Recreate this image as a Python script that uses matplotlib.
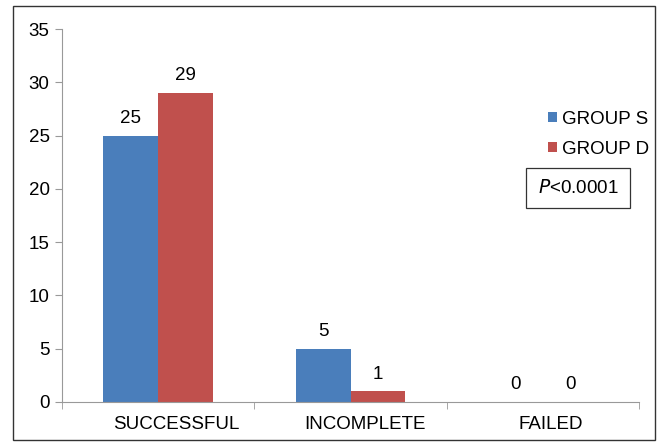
import matplotlib.pyplot as plt
import matplotlib.transforms as mtransforms
import numpy as np
from matplotlib.patches import Rectangle

plt.rcParams["font.family"] = ["Liberation Sans", "DejaVu Sans"]

categories = ["SUCCESSFUL", "INCOMPLETE", "FAILED"]
group_s = [25, 5, 0]
group_d = [29, 1, 0]
series_names = ["GROUP S", "GROUP D"]
colors = ["#4A7EBB", "#C0504D"]

fs = 13.5
fig = plt.figure(figsize=(6.59, 4.45), dpi=100)
ax = fig.add_axes([62 / 659, 1 - 402 / 445, 577 / 659, 373 / 445])

# outer frame around the whole chart
fig.patches.append(Rectangle((13 / 659, 5 / 445), 642 / 659, 434 / 445,
                             transform=fig.transFigure, fill=False,
                             edgecolor="#333333", linewidth=1.0, zorder=0))

x = np.arange(len(categories))
w = 0.285
b1 = ax.bar(x - w / 2, group_s, w, color=colors[0], label=series_names[0])
b2 = ax.bar(x + w / 2, group_d, w, color=colors[1], label=series_names[1])
for bars in (b1, b2):
    for r in bars:
        ax.text(r.get_x() + r.get_width() / 2, r.get_height() + 0.8,
                f"{int(r.get_height())}", ha="center", va="bottom", fontsize=fs)

ax.set_xlim(-0.5, 2.5)
ax.set_ylim(0, 35)
ax.set_yticks(range(0, 36, 5))
ax.set_xticks(x)
ax.set_xticklabels(categories, fontsize=fs)
ax.set_xticks([-0.5, 0.5, 1.5, 2.5], minor=True)
ax.tick_params(axis="x", which="major", length=0, pad=10)
ax.tick_params(axis="x", which="minor", length=5, color="#999999", direction="out")
ax.tick_params(axis="y", length=5, color="#999999", labelsize=fs, pad=4)
# category labels sit a little right of the bar groups in the original
for lbl, dx in zip(ax.get_xticklabels(), [18, 15, 8]):
    lbl.set_transform(lbl.get_transform() + mtransforms.ScaledTranslation(dx / 100, 0, fig.dpi_scale_trans))
for s in ["top", "right"]:
    ax.spines[s].set_visible(False)
ax.spines["left"].set_color("#999999")
ax.spines["bottom"].set_color("#999999")

leg = ax.legend(loc="upper left", bbox_to_anchor=(486 / 577, 0.781), frameon=False,
                fontsize=fs, handlelength=0.5, handleheight=0.5, handletextpad=0.25,
                labelspacing=0.7, borderaxespad=0, borderpad=0)

ax.text(578 / 659, 1 - 188 / 445, "$P$<0.0001", transform=fig.transFigure,
        ha="center", va="center", fontsize=fs,
        bbox=dict(boxstyle="square,pad=0.6", facecolor="white", edgecolor="#333333", linewidth=0.9))

fig.savefig("out.png", dpi=100)
